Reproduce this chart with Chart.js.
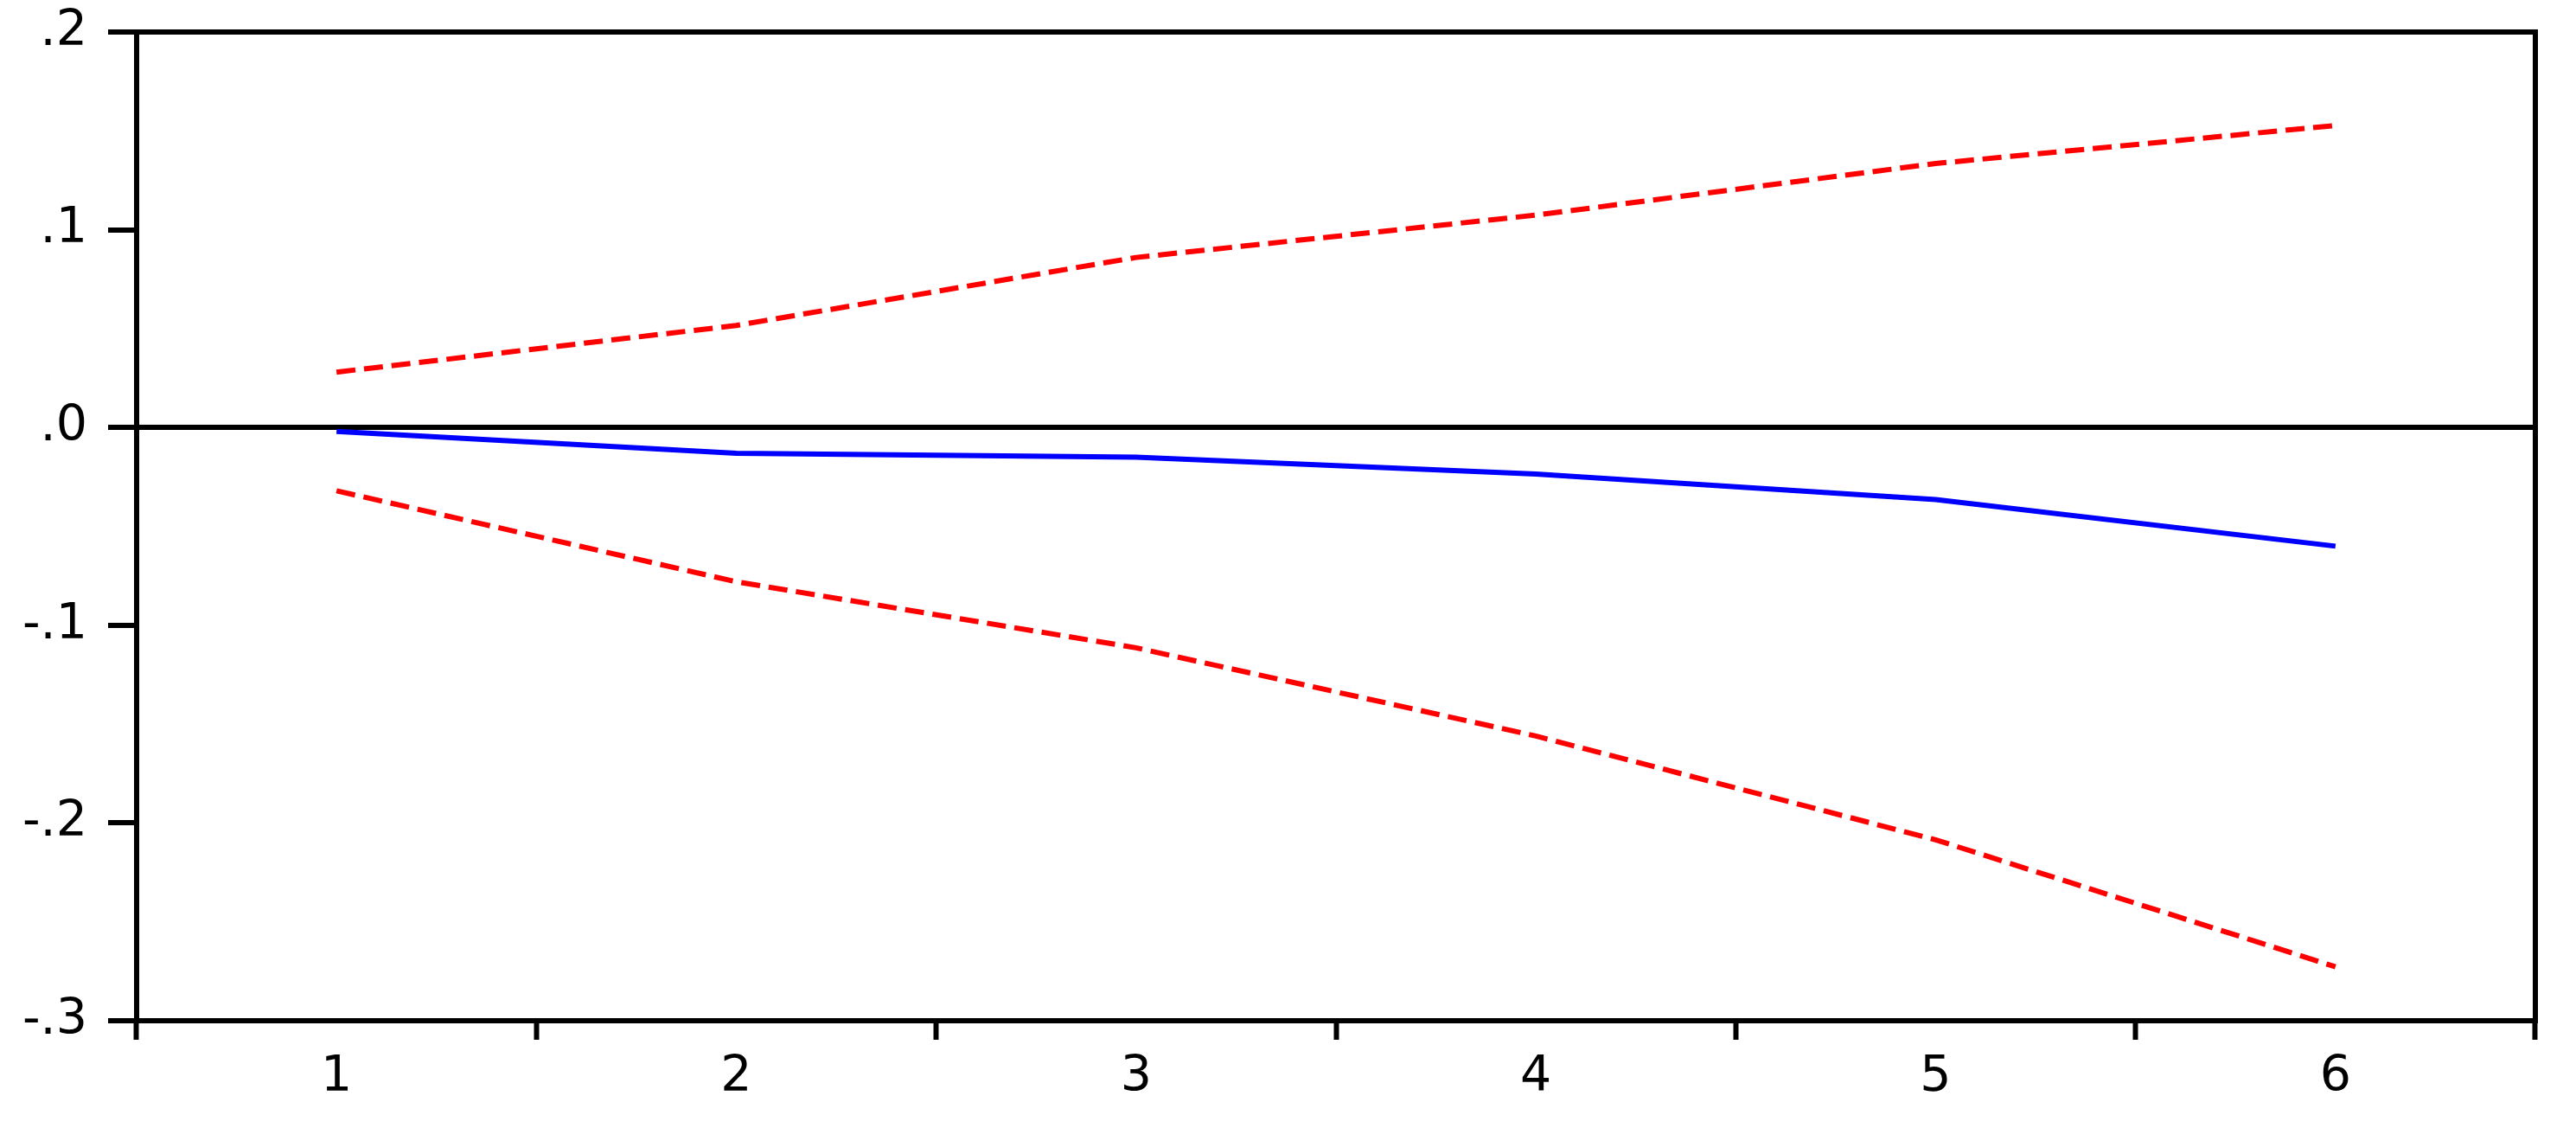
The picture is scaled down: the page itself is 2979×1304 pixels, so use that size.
<!DOCTYPE html>
<html>
<head>
<meta charset="utf-8">
<title>Impulse response</title>
<script src="https://cdn.jsdelivr.net/npm/chart.js@4"></script>
<style>
    html, body { margin: 0; padding: 0; background: #fff; }
    #wrap { width: 2979px; height: 1304px; position: relative; }
</style>
</head>
<body>
<div id="wrap"><canvas id="chart"></canvas></div>
<script>
// periods on the x axis
const periods = ['1', '2', '3', '4', '5', '6'];

// response (solid blue) and +/- 2 s.e. bands (dashed red)
const response = [-0.002, -0.013, -0.015, -0.0235, -0.0364, -0.060];
const upperBand = [0.028, 0.0516, 0.086, 0.1074, 0.1335, 0.1527];
const lowerBand = [-0.032, -0.078, -0.1114, -0.156, -0.2085, -0.2727];

// y range
const yMin = -0.3;
const yMax = 0.2;
const yStep = 0.1;

// ".2", "-.1" style labels
function shortLabel(v) {
    let s = Number(v).toFixed(1);
    if (s === '-0.0') s = '0.0';
    return s.replace('0.', '.');
}

// box around the plot area
const framePlugin = {
    id: 'frame',
    afterDatasetsDraw(chart) {
        const a = chart.chartArea;
        const ctx = chart.ctx;
        ctx.save();
        ctx.strokeStyle = '#000';
        ctx.lineWidth = 6;
        ctx.strokeRect(a.left, a.top, a.right - a.left, a.bottom - a.top);
        ctx.restore();
    }
};

const font = { family: '"DejaVu Sans", sans-serif', size: 57 };

const ctx = document.getElementById('chart').getContext('2d');
new Chart(ctx, {
    type: 'line',
    data: {
        labels: periods,
        datasets: [
            {
                label: 'Response',
                data: response,
                borderColor: 'rgb(0, 0, 255)',
                borderWidth: 6,
                pointRadius: 0,
                tension: 0
            },
            {
                label: 'Upper',
                data: upperBand,
                borderColor: 'rgb(255, 0, 0)',
                borderWidth: 6,
                borderDash: [22, 10],
                pointRadius: 0,
                tension: 0
            },
            {
                label: 'Lower',
                data: lowerBand,
                borderColor: 'rgb(255, 0, 0)',
                borderWidth: 6,
                borderDash: [22, 10],
                pointRadius: 0,
                tension: 0
            }
        ]
    },
    options: {
        responsive: true,
        maintainAspectRatio: false,
        animation: false,
        layout: { padding: { left: 0, top: 37, right: 47, bottom: 0 } },
        plugins: {
            legend: { display: false },
            title: { display: false },
            tooltip: { enabled: false }
        },
        scales: {
            x: {
                type: 'category',
                offset: true,
                border: { display: false },
                grid: {
                    offset: true,
                    drawOnChartArea: false,
                    drawTicks: true,
                    tickLength: 22,
                    tickWidth: 6,
                    tickColor: '#000'
                },
                ticks: { color: '#000', font: font, padding: 10, maxRotation: 0 },
                afterFit(scale) { scale.height = 124; }
            },
            y: {
                min: yMin,
                max: yMax,
                border: { display: false },
                grid: {
                    drawTicks: true,
                    tickLength: 33,
                    tickWidth: 6,
                    tickColor: '#000',
                    lineWidth: 6,
                    color: c => (c.tick && Math.abs(c.tick.value) < 1e-9) ? '#000' : 'rgba(0,0,0,0)'
                },
                ticks: {
                    stepSize: yStep,
                    color: '#000',
                    font: font,
                    padding: 24,
                    callback: v => shortLabel(v)
                },
                afterFit(scale) {
                    scale.width = 158;
                    scale.paddingTop = 0;
                    scale.paddingBottom = 0;
                }
            }
        }
    },
    plugins: [framePlugin]
});
</script>
</body>
</html>
